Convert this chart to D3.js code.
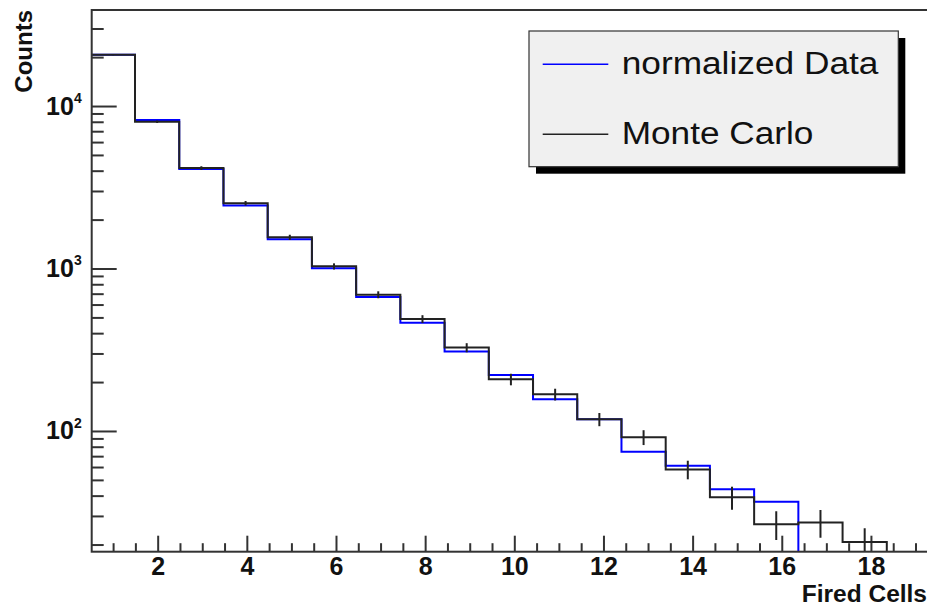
<!DOCTYPE html>
<html>
<head>
<meta charset="utf-8">
<script src="https://cdn.jsdelivr.net/npm/d3@7"></script>
<style>
  html, body { margin: 0; padding: 0; background: #fff; }
  svg { display: block; font-family: "Liberation Sans", Arial, sans-serif; }
</style>
</head>
<body>
<div id="chart"></div>
<script>
// histogram binning (bins are slightly narrower than one unit)
const binLow = 0.5;
const binWidth = 0.992;

// bin contents, bins 1..18
const dataValues = [20700, 8200, 4100, 2440, 1514, 1003, 668, 464, 308, 221, 157, 118, 74.6, 61, 43.8, 36.7, 0, 0];
const mcValues   = [20700, 8000, 4150, 2520, 1556, 1031, 690, 489, 326, 208, 168, 118, 91.5, 58, 39.1, 26.7, 27.3, 20.7];
const mcErrors   = [150, 140, 110, 80, 60, 45, 34, 27, 21, 17, 14, 11, 9.6, 7.6, 6.3, 5.4, 5.3, 4.5];

const xMajorTicks = [2, 4, 6, 8, 10, 12, 14, 16, 18];
const yMajorTicks = [100, 1000, 10000];
const yExponents = ["2", "3", "4"];

const legendItems = ["normalized Data", "Monte Carlo"];
const legendColors = ["#0000ff", "#222"];

const W = 927, H = 605;
const frame = {left: 91.7, top: 10, right: 937.8, bottom: 551.7};

const svg = d3.select("#chart").append("svg")
    .attr("width", W).attr("height", H);

svg.append("rect").attr("width", W).attr("height", H).attr("fill", "#fff");

const x = d3.scaleLinear().domain([0.52, 19.5]).range([frame.left, frame.right]);
const y = d3.scaleLog().domain([18.07, 39000]).range([frame.bottom, frame.top]);

svg.append("clipPath").attr("id", "clip")
  .append("rect")
    .attr("x", frame.left).attr("y", frame.top)
    .attr("width", frame.right - frame.left).attr("height", frame.bottom - frame.top);

// minor tick lists
const xMinor = d3.range(1, 19.6, 0.5).filter(d => xMajorTicks.indexOf(d) < 0);
const yMinor = [];
[10, 100, 1000, 10000].forEach(dec => {
  for (let k = 2; k <= 9; k++) if (dec * k < 39000) yMinor.push(dec * k);
});

// x axis: minor then major, ticks pointing inward
svg.append("g")
    .attr("transform", "translate(0," + frame.bottom + ")")
    .call(d3.axisBottom(x).tickValues(xMinor).tickSize(-8.5).tickSizeOuter(0).tickFormat(""))
    .call(g => g.select(".domain").remove())
    .call(g => g.selectAll("line").attr("stroke", "#333").attr("stroke-width", 2));

const xAx = svg.append("g")
    .attr("transform", "translate(0," + frame.bottom + ")")
    .call(d3.axisBottom(x).tickValues(xMajorTicks).tickSize(-16).tickSizeOuter(0).tickPadding(5.5))
    .call(g => g.select(".domain").remove());
xAx.selectAll("line").attr("stroke", "#333").attr("stroke-width", 2);
xAx.selectAll("text")
    .attr("fill", "#111")
    .style("font-size", "25px")
    .style("font-weight", "bold")
    .style("font-family", "'Liberation Sans', Arial, sans-serif");

// y axis
svg.append("g")
    .attr("transform", "translate(" + frame.left + ",0)")
    .call(d3.axisLeft(y).tickValues(yMinor).tickSize(-12).tickSizeOuter(0).tickFormat(""))
    .call(g => g.select(".domain").remove())
    .call(g => g.selectAll("line").attr("stroke", "#333").attr("stroke-width", 2));

const yAx = svg.append("g")
    .attr("transform", "translate(" + frame.left + ",0)")
    .call(d3.axisLeft(y).tickValues(yMajorTicks).tickSize(-25).tickSizeOuter(0).tickPadding(10).tickFormat(""))
    .call(g => g.select(".domain").remove());
yAx.selectAll("line").attr("stroke", "#333").attr("stroke-width", 2);
yAx.selectAll("text")
    .attr("fill", "#111")
    .style("font-size", "25px")
    .style("font-weight", "bold")
    .style("font-family", "'Liberation Sans', Arial, sans-serif")
    .each(function(d, i) {
      const t = d3.select(this);
      t.append("tspan").text("10");
      t.append("tspan").attr("dy", "-11.7").style("font-size", "14px").text(yExponents[i]);
    });

// histogram outlines
function histPoints(values) {
  const pts = [];
  let last = 0;
  values.forEach((v, i) => { if (v > 0) last = i; });
  for (let i = 0; i <= last; i++) {
    const lo = binLow + i * binWidth, hi = lo + binWidth;
    pts.push([lo, values[i]]);
    pts.push([hi, values[i]]);
  }
  pts.push([binLow + (last + 1) * binWidth, 0]);
  return pts;
}

const histLine = d3.line()
    .x(d => x(d[0]))
    .y(d => d[1] > 0 ? y(d[1]) : frame.bottom + 2);

const plot = svg.append("g").attr("clip-path", "url(#clip)");

plot.append("path")
    .datum(histPoints(dataValues))
    .attr("d", histLine)
    .attr("fill", "none")
    .attr("stroke", legendColors[0])
    .attr("stroke-width", 2);

plot.append("path")
    .datum(histPoints(mcValues))
    .attr("d", histLine)
    .attr("fill", "none")
    .attr("stroke", legendColors[1])
    .attr("stroke-width", 2);

// MC error bars
plot.selectAll(".err")
  .data(mcValues.map((v, i) => ({v: v, e: mcErrors[i], c: binLow + (i + 0.5) * binWidth})))
  .enter().append("line")
    .attr("class", "err")
    .attr("x1", d => x(d.c)).attr("x2", d => x(d.c))
    .attr("y1", d => y(Math.max(d.v - d.e, 1)))
    .attr("y2", d => y(d.v + d.e))
    .attr("stroke", legendColors[1])
    .attr("stroke-width", 2);

// frame
svg.append("rect")
    .attr("x", frame.left).attr("y", frame.top)
    .attr("width", frame.right - frame.left).attr("height", frame.bottom - frame.top)
    .attr("fill", "none")
    .attr("stroke", "#333")
    .attr("stroke-width", 2);

// axis titles
svg.append("text")
    .attr("transform", "translate(31.7," + frame.top + ") rotate(-90)")
    .attr("text-anchor", "end")
    .style("font-size", "24px")
    .style("font-weight", "bold")
    .attr("fill", "#111")
    .text("Counts");

svg.append("text")
    .attr("x", 927).attr("y", 601.5)
    .attr("text-anchor", "end")
    .style("font-size", "24.5px")
    .style("font-weight", "bold")
    .attr("fill", "#111")
    .text("Fired Cells");

// legend with shadow
const leg = {x: 529, y: 31, w: 369.3, h: 135.7};
svg.append("rect")
    .attr("x", leg.x + 7).attr("y", leg.y + 7)
    .attr("width", leg.w).attr("height", leg.h)
    .attr("fill", "#000");
svg.append("rect")
    .attr("x", leg.x).attr("y", leg.y)
    .attr("width", leg.w).attr("height", leg.h)
    .attr("fill", "#f0f0f0")
    .attr("stroke", "#333")
    .attr("stroke-width", 1.2);

const legRowY = [64.3, 134.3];
const legTextLen = [256.7, 191.7];
legendItems.forEach((name, i) => {
  svg.append("line")
      .attr("x1", 542.7).attr("x2", 608.3)
      .attr("y1", legRowY[i]).attr("y2", legRowY[i])
      .attr("stroke", legendColors[i])
      .attr("stroke-width", 1.5);
  svg.append("text")
      .attr("x", 621.7).attr("y", legRowY[i] + 9.5)
      .attr("textLength", legTextLen[i])
      .attr("lengthAdjust", "spacingAndGlyphs")
      .style("font-size", "31px")
      .attr("fill", "#111")
      .text(name);
});
</script>
</body>
</html>
